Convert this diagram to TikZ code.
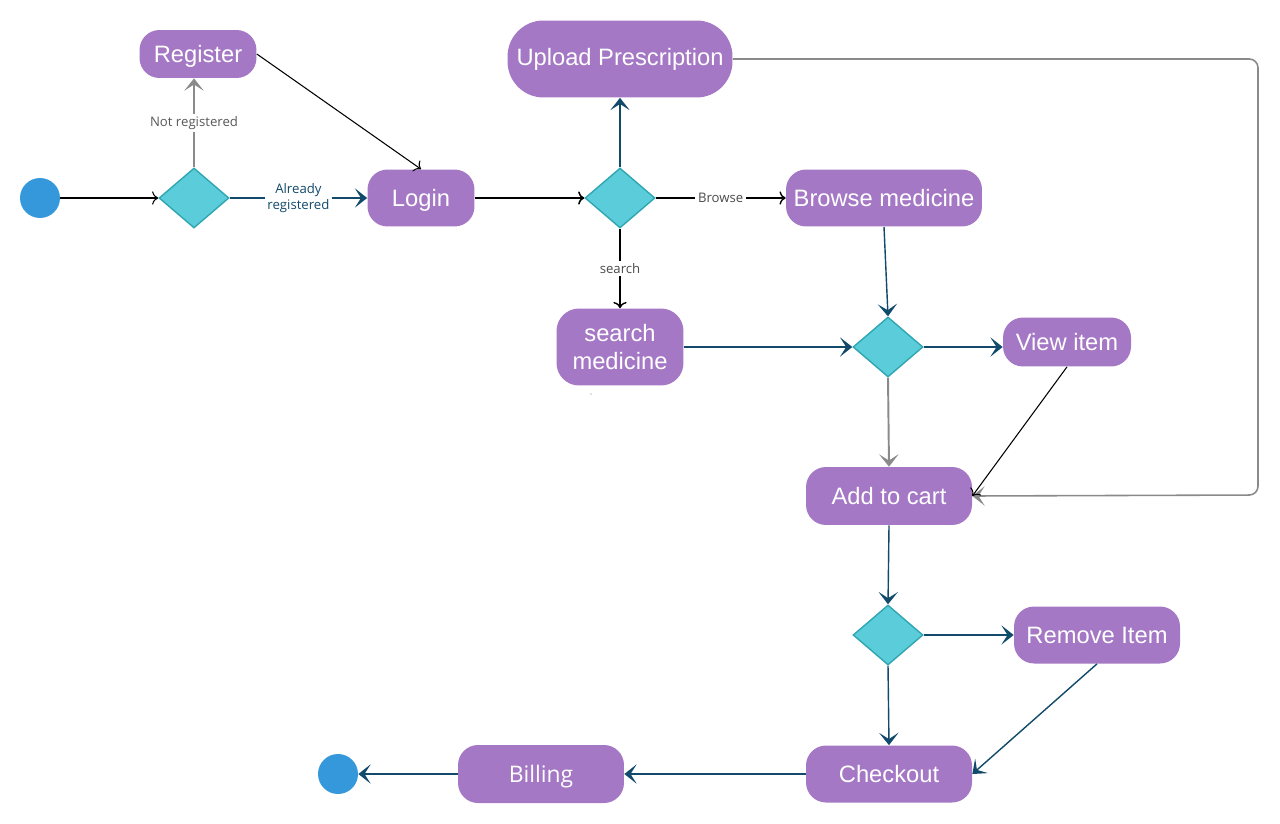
\documentclass[tikz,border=0pt]{standalone}
\usepackage{fontspec}
\setmainfont{Liberation Sans}
\newfontfamily\lblfont{Open Sans}
\usetikzlibrary{shapes.geometric,arrows.meta}
\definecolor{actpurple}{HTML}{A478C4}
\definecolor{deccyan}{HTML}{5BCDDA}
\definecolor{decborder}{HTML}{2FA6B2}
\definecolor{startblue}{HTML}{3498DB}
\definecolor{darkblue}{HTML}{124A6C}
\definecolor{linegray}{HTML}{8A8A8A}
\begin{document}
\begin{tikzpicture}[x=0.02cm,y=-0.02cm,
  act/.style={fill=actpurple, draw=none, text=white, inner sep=0pt, align=center,
    font=\fontsize{13.5}{16}\selectfont, rounded corners=0.4cm,
    text height=0.95em, text depth=0pt},
  dec/.style={diamond, fill=deccyan, draw=decborder, line width=0.8pt,
    minimum width=1.4cm, minimum height=1.2cm, inner sep=0pt},
  term/.style={circle, fill=startblue, draw=none, minimum size=0.8cm, inner sep=0pt},
  blk/.style={draw=black, line width=0.6pt, -{To[length=3.5pt,width=7.5pt]}},
  blu/.style={draw=darkblue, line width=0.8pt, -{Stealth[length=7pt,width=11pt,inset=3.5pt]}},
  gry/.style={draw=linegray, line width=1.1pt, -{Stealth[length=7pt,width=11pt,inset=3.5pt]}},
  lbl/.style={fill=white, inner sep=1.5pt, font=\lblfont\fontsize{7.5}{9}\selectfont, align=center}
]
\useasboundingbox (0,0) rectangle (1280,824);

% nodes
\node[term] (start) at (40,198) {};
\node[dec] (d1) at (194,198) {};
\node[act, minimum width=2.34cm, minimum height=0.96cm] (register) at (198,54) {Register};
\node[act, minimum width=2.14cm, minimum height=1.14cm] (login) at (421,198) {Login};
\node[dec] (d2) at (620,198) {};
\node[act, minimum width=4.5cm, minimum height=1.54cm, rounded corners=0.72cm,
  text height=0.72em] (upload) at (620,59) {Upload Prescription};
\node[act, minimum width=3.92cm, minimum height=1.14cm] (browse) at (884,198) {Browse medicine};
\node[act, minimum width=2.54cm, minimum height=1.54cm, rounded corners=0.45cm,
  text height=, text depth=] (search) at (620,347) {search\\medicine};
\node[dec] (d3) at (888,347) {};
\node[act, minimum width=2.56cm, minimum height=0.98cm] (view) at (1067,342) {View item};
\node[act, minimum width=3.32cm, minimum height=1.16cm] (cart) at (889,496) {Add to cart};
\node[dec] (d4) at (888,635) {};
\node[act, minimum width=3.32cm, minimum height=1.14cm] (remove) at (1097,635) {Remove Item};
\node[act, minimum width=3.32cm, minimum height=1.14cm] (checkout) at (889,774) {Checkout};
\node[act, minimum width=3.32cm, minimum height=1.16cm, font=\lblfont\fontsize{13}{15}\selectfont] (billing) at (541,774) {Billing};
\node[term] (end) at (338,774) {};
\coordinate (ur) at (1258,59);
\coordinate (lr) at (1258,495);

% connectors
\draw[blk] (start.east) -- (d1.west);
\draw[gry] (d1.north) -- (d1.north |- register.south)
  node[lbl, midway, text=black!65] {Not registered};
\draw[blu] (d1.east) -- (login.west)
  node[lbl, midway, text=darkblue] {Already\\registered};
\draw[blk] (register.east) -- (login.north);
\draw[blk, line width=0.9pt] (login.east) -- (d2.west);
\draw[blu, line width=1pt] (d2.north) -- (upload.south);
\draw[blk, line width=0.8pt] (d2.east) -- (browse.west)
  node[lbl, midway, text=black!70] {Browse};
\draw[blk, line width=0.8pt] (d2.south) -- (search.north)
  node[lbl, midway, text=black!70] {search};
\draw[gry, line width=0.9pt, rounded corners=5pt] (upload.east) -- (ur) -- (lr) -- (cart.east);
\draw[blu] (browse.south) -- (d3.north);
\draw[blu] (search.east) -- (d3.west);
\draw[blu] (d3.east) -- (view.west |- d3.east);
\draw[gry] (d3.south) -- (cart.north);
\draw[blk] (view.south) -- (cart.east);
\draw[blu] (cart.south) -- (d4.north);
\draw[blu] (d4.east) -- (remove.west);
\draw[blu] (d4.south) -- (checkout.north);
\draw[blu] (remove.south) -- (checkout.east);
\draw[blu] (checkout.west) -- (billing.east);
\draw[blu] (billing.west) -- (end.east);
\fill[black!50] (591,394) circle (0.6);
\end{tikzpicture}
\end{document}
